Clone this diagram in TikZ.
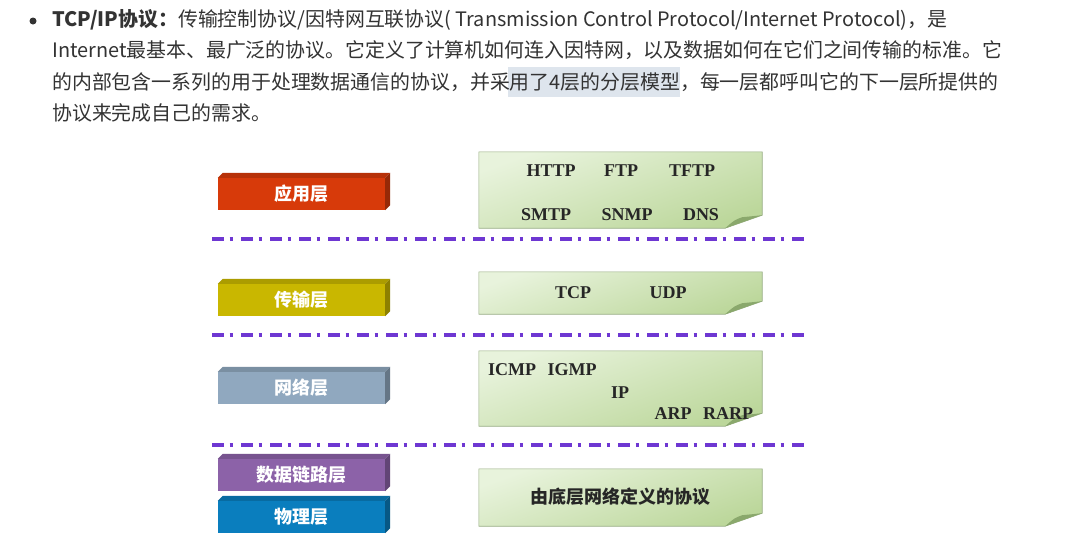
\documentclass[tikz,border=0pt]{standalone}
\usepackage{fontspec}
\newfontfamily\cjk{Noto Sans CJK SC}
\newfontfamily\tnr{Liberation Serif}
\usetikzlibrary{positioning}
\definecolor{bodytext}{RGB}{51,51,51}
\definecolor{selblue}{RGB}{222,229,237}
\definecolor{appred}{RGB}{215,58,10}
\definecolor{transyellow}{RGB}{201,183,0}
\definecolor{netgray}{RGB}{144,168,191}
\definecolor{linkpurple}{RGB}{140,98,168}
\definecolor{physblue}{RGB}{10,126,190}
\definecolor{seppurple}{RGB}{110,55,210}
\definecolor{notetop}{RGB}{232,243,220}
\definecolor{notebot}{RGB}{188,215,155}
\definecolor{noteline}{RGB}{150,172,130}
\definecolor{folddark}{RGB}{138,168,108}

\begin{document}
\begin{tikzpicture}[x=1pt, y=-1pt,
  line/.style={anchor=west, inner sep=0pt, text=bodytext, font=\cjk\fontsize{19.9}{23}\selectfont},
  layer/.style={fill=#1, minimum width=167pt, minimum height=32pt, inner sep=0pt, text=white, font=\cjk\bfseries\fontsize{18}{18}\selectfont},
  note/.style={draw=noteline, line width=0.6pt, top color=notetop, bottom color=notebot, shading angle=20},
  proto/.style={inner sep=0pt, text=black!85, font=\tnr\bfseries\fontsize{18}{18}\selectfont},
  sep/.style={draw=seppurple, line width=3.2pt, dash pattern=on 11.5pt off 6pt on 3pt off 8.5pt},
]
\useasboundingbox[fill=white] (0,0) rectangle (1075,541);

\fill[selblue] (508,67) rectangle (680,97);
\fill[bodytext] (33,21) circle (3.5pt);
\node[line] (line1) at (52,20) {{\bfseries TCP/IP协议：}传输控制协议/因特网互联协议( Transmission Control Protocol/Internet Protocol)，是};
\node[line] (line2) at (52,50) {Internet最基本、最广泛的协议。它定义了计算机如何连入因特网，以及数据如何在它们之间传输的标准。它};
\node[line] (line3) at (52,82) {的内部包含一系列的用于处理数据通信的协议，并采用了4层的分层模型，每一层都呼叫它的下一层所提供的};
\node[line] (line4) at (52,113) {协议来完成自己的需求。};

\foreach \nm/\txt/\col/\yc in {app/应用层/appred/194, trans/传输层/transyellow/300, net/网络层/netgray/388, link/数据链路层/linkpurple/475, phys/物理层/physblue/517} {
  \node[layer=\col] (\nm) at (301.5,\yc) {\txt};
  \fill[\col!85!black] (\nm.north west) -- ([shift={(5,-5)}]\nm.north west) -- ([shift={(5,-5)}]\nm.north east) -- (\nm.north east) -- cycle;
  \fill[\col!70!black] (\nm.north east) -- ([shift={(5,-5)}]\nm.north east) -- ([shift={(5,-5)}]\nm.south east) -- (\nm.south east) -- cycle;
}

\foreach \nm/\yc/\hh in {appnote/190/76, transnote/293/42, netnote/388.5/75, physnote/497.5/57} {
  \node[minimum width=283pt, minimum height=\hh pt, inner sep=0pt] (\nm) at (620.5,\yc) {};
  \shadedraw[note] (\nm.north west) -- (\nm.north east) -- ([yshift=13pt]\nm.south east) -- ([xshift=-37pt]\nm.south east) -- (\nm.south west) -- cycle;
  \fill[folddark] ([xshift=-37pt]\nm.south east) .. controls ([shift={(-28pt,8pt)}]\nm.south east) .. ([shift={(-20pt,11pt)}]\nm.south east) -- ([yshift=13pt]\nm.south east) -- cycle;
}

\node[proto] (http) at (551,171) {HTTP};
\node[proto] (ftp) at (621,171) {FTP};
\node[proto] (tftp) at (692,171) {TFTP};
\node[proto] (smtp) at (546,215) {SMTP};
\node[proto] (snmp) at (627,215) {SNMP};
\node[proto] (dns) at (701,215) {DNS};
\node[proto] (tcp) at (573,293) {TCP};
\node[proto] (udp) at (668,293) {UDP};
\node[proto] (icmp) at (512,370) {ICMP};
\node[proto] (igmp) at (572,370) {IGMP};
\node[proto] (ip) at (620,393) {IP};
\node[proto] (arp) at (673,414) {ARP};
\node[proto] (rarp) at (728,414) {RARP};
\node[proto, font=\cjk\bfseries\fontsize{18}{18}\selectfont] (lower) at (620,497) {由底层网络定义的协议};

\foreach \yc in {239,335,445} { \draw[sep] (212,\yc) -- (808,\yc); }
\end{tikzpicture}
\end{document}
